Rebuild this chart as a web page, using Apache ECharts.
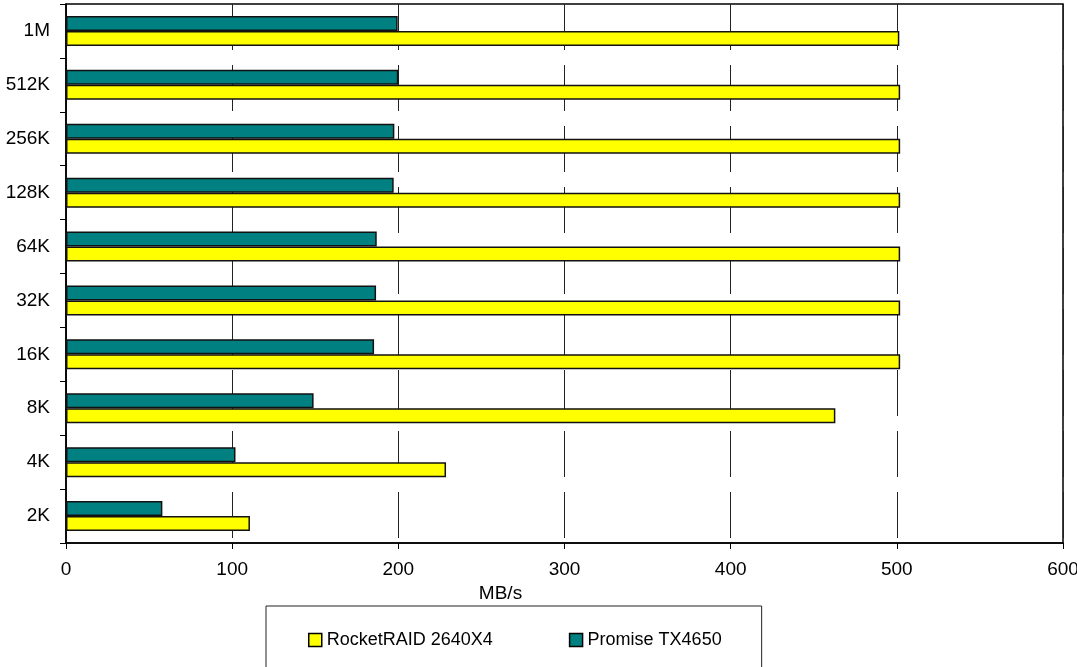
<!DOCTYPE html>
<html>
<head>
<meta charset="utf-8">
<script src="https://cdn.jsdelivr.net/npm/echarts@6/dist/echarts.min.js"></script>
<style>
html,body{margin:0;padding:0;background:#fff;}
#c{width:1077px;height:667px;}
</style>
</head>
<body>
<div id="c"></div>
<script>
var categories = ['2K','4K','8K','16K','32K','64K','128K','256K','512K','1M'];
var rocketRaid = [110.7, 228.7, 463, 502, 502, 502, 502, 502, 502, 501.5];
var promise = [58, 102, 149, 185.4, 186.6, 187, 197.2, 197.6, 200, 199.6];
var xTicks = [0, 100, 200, 300, 400, 500, 600];
var seriesNames = ['RocketRAID 2640X4', 'Promise TX4650'];

var FONT = '"Liberation Sans", Arial, sans-serif';
var chart = echarts.init(document.getElementById('c'), null, {renderer: 'canvas'});
chart.setOption({
  animation: false,
  backgroundColor: '#fff',
  grid: {
    left: 66, top: 4, right: 14, bottom: 124,
    containLabel: false, outerBoundsMode: 'none',
    show: true, borderColor: '#000', borderWidth: 1.5, backgroundColor: 'transparent'
  },
  legend: {
    left: 266, top: 606,
    orient: 'horizontal',
    padding: [25, 40, 40, 42],
    borderColor: '#222', borderWidth: 1,
    itemWidth: 13, itemHeight: 13, itemGap: 76,
    icon: 'rect',
    textStyle: {fontFamily: FONT, fontSize: 18, color: '#000'},
    data: seriesNames.map(function(n){ return {name: n}; }),
    itemStyle: {borderColor: '#000', borderWidth: 1.5}
  },
  xAxis: {
    type: 'value',
    min: xTicks[0], max: xTicks[xTicks.length - 1], interval: 100,
    name: 'MB/s', nameLocation: 'middle', nameGap: 28,
    nameTextStyle: {fontFamily: FONT, fontSize: 19, color: '#000', padding: [0, 128, 0, 0]},
    axisLine: {show: true, lineStyle: {color: '#000', width: 1.5}},
    axisTick: {show: true, length: 6, lineStyle: {color: '#000', width: 1}},
    axisLabel: {fontFamily: FONT, fontSize: 19, color: '#000', margin: 17},
    splitLine: {show: true, lineStyle: {color: '#222', width: 1, type: [46, 15]}}
  },
  yAxis: {
    type: 'category',
    data: categories,
    axisLine: {show: true, lineStyle: {color: '#000', width: 1.5}},
    axisTick: {show: true, length: 6, lineStyle: {color: '#000', width: 1}},
    axisLabel: {fontFamily: FONT, fontSize: 19, color: '#000', margin: 16},
    splitLine: {show: false}
  },
  series: [
    {
      name: seriesNames[1], type: 'bar', data: promise,
      barWidth: 15, barGap: '0%',
      itemStyle: {color: '#008080', borderColor: '#111', borderWidth: 1.5}
    },
    {
      name: seriesNames[0], type: 'bar', data: rocketRaid,
      barWidth: 15, barGap: '0%',
      itemStyle: {color: '#FFFF00', borderColor: '#111', borderWidth: 1.5}
    }
  ]
});
</script>
</body>
</html>
